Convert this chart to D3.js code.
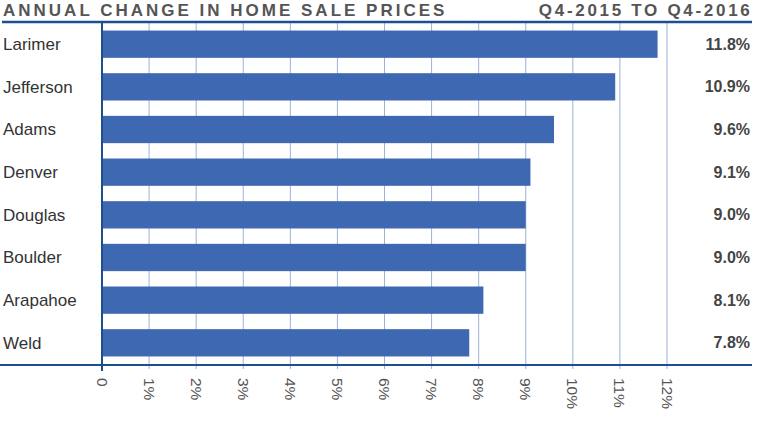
<!DOCTYPE html>
<html><head><meta charset="utf-8">
<script src="https://cdn.jsdelivr.net/npm/d3@7/dist/d3.min.js"></script>
<style>body{margin:0;background:#fff}svg{display:block}</style>
</head><body><svg id="c" width="760" height="428"></svg>
<script>
const categories = ["Larimer","Jefferson","Adams","Denver","Douglas","Boulder","Arapahoe","Weld"];
const values = [11.8, 10.9, 9.6, 9.1, 9.0, 9.0, 8.1, 7.8];
const valueLabels = ["11.8%","10.9%","9.6%","9.1%","9.0%","9.0%","8.1%","7.8%"];
const tickValues = [0,1,2,3,4,5,6,7,8,9,10,11,12];
const tickLabels = ["0","1%","2%","3%","4%","5%","6%","7%","8%","9%","10%","11%","12%"];
const title = "ANNUAL CHANGE IN HOME SALE PRICES";
const subtitle = "Q4-2015 TO Q4-2016";

(function(){
const svg = d3.select("#c");
const font = "'Liberation Sans', Arial, sans-serif";
const yTop = 22, yBot = 365, xLeft = 102;
const x = d3.scaleLinear().domain([0,12]).range([xLeft, 667]);
const y = d3.scaleBand().domain(categories).range([yTop,yBot]).paddingInner(0.36).paddingOuter(0.2);

// titles
svg.append("text").attr("x",3).attr("y",15.5).text(title)
  .attr("font-family",font).attr("font-weight","bold").attr("font-size",17)
  .attr("letter-spacing","3px").attr("fill","#555");
svg.append("text").attr("x",752.5).attr("y",15.5).attr("text-anchor","end").text(subtitle)
  .attr("font-family",font).attr("font-weight","bold").attr("font-size",17)
  .attr("letter-spacing","2.7px").attr("fill","#555");

// gridlines
svg.append("g").selectAll("line").data(tickValues.filter(d=>d>0)).join("line")
  .attr("x1",d=>x(d)).attr("x2",d=>x(d)).attr("y1",yTop).attr("y2",369)
  .attr("stroke","#9db2d6").attr("stroke-width",1);

// bars
svg.append("g").selectAll("rect").data(values).join("rect")
  .attr("x",x(0)).attr("y",(d,i)=>y(categories[i]))
  .attr("width",d=>x(d)-x(0)).attr("height",y.bandwidth())
  .attr("fill","#3f68b2");

// lines
svg.append("line").attr("x1",2).attr("x2",752).attr("y1",yTop).attr("y2",yTop)
  .attr("stroke","#1f4e8f").attr("stroke-width",2.5);
svg.append("line").attr("x1",0).attr("x2",752).attr("y1",yBot).attr("y2",yBot)
  .attr("stroke","#1f4e8f").attr("stroke-width",2);
svg.append("line").attr("x1",x(0)).attr("x2",x(0)).attr("y1",yTop).attr("y2",371)
  .attr("stroke","#1f4e8f").attr("stroke-width",2);

// category labels
svg.append("g").selectAll("text").data(categories).join("text")
  .attr("x",3).attr("y",d=>y(d)+y.bandwidth()/2).attr("dy","0.35em").text(d=>d)
  .attr("font-family",font).attr("font-size",17).attr("fill","#333");

// value labels
svg.append("g").selectAll("text").data(valueLabels).join("text")
  .attr("x",750).attr("y",(d,i)=>y(categories[i])+y.bandwidth()/2).attr("dy","0.35em")
  .attr("text-anchor","end").text(d=>d)
  .attr("font-family",font).attr("font-weight","bold").attr("font-size",16).attr("fill","#444");

// x tick labels rotated
svg.append("g").selectAll("text").data(tickValues).join("text")
  .attr("transform",(d)=>`translate(${x(d)},378) rotate(90)`)
  .attr("dy","0.35em").text((d,i)=>tickLabels[i])
  .attr("font-family",font).attr("font-size",15.5).attr("fill","#555");
})();
</script></body></html>
